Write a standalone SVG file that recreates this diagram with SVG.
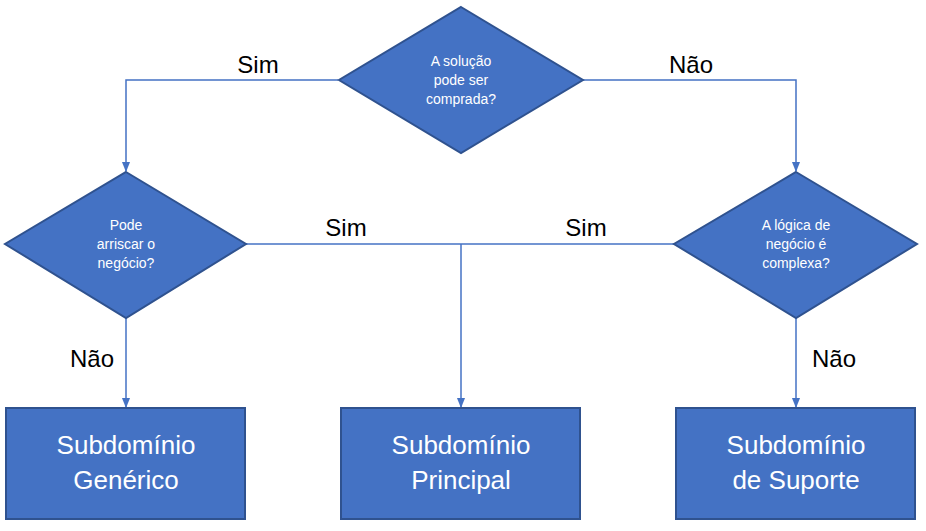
<svg xmlns="http://www.w3.org/2000/svg" width="926" height="531" viewBox="0 0 926 531">
<style>
.s{fill:#4472C4;stroke:#2F528F;stroke-width:2}
.c{fill:none;stroke:#4472C4;stroke-width:1.5}
.d{font-family:"Liberation Sans",Arial,sans-serif;font-size:14px;fill:#fff;text-anchor:middle}
.b{font-family:"Liberation Sans",Arial,sans-serif;font-size:26px;fill:#fff;text-anchor:middle}
.l{font-family:"Liberation Sans",Arial,sans-serif;font-size:24px;fill:#000;text-anchor:middle}
</style>
<defs><marker id="a" viewBox="0 0 10 10" refX="9" refY="5" markerWidth="7" markerHeight="7" orient="auto"><path d="M0,1 L10,5 L0,9z" fill="#4472C4"/></marker></defs>
<rect width="926" height="531" fill="#fff"/>
<g id="connectors">
<path class="c" d="M338,80 H126 V171" marker-end="url(#a)"/>
<path class="c" d="M583,80 H796 V171" marker-end="url(#a)"/>
<path class="c" d="M246,244 H674"/>
<path class="c" d="M461,244 V407" marker-end="url(#a)"/>
<path class="c" d="M126,318 V407" marker-end="url(#a)"/>
<path class="c" d="M796,318 V407" marker-end="url(#a)"/>
<text class="l" x="258" y="73">Sim</text>
<text class="l" x="691" y="73">Não</text>
<text class="l" x="346" y="236">Sim</text>
<text class="l" x="586" y="236">Sim</text>
<text class="l" x="92" y="367">Não</text>
<text class="l" x="834" y="367">Não</text>
</g>
<g id="q1"><path class="s" d="M461,7 L583,80 L461,153 L339,80z"/><text class="d" x="461" y="66">A solução</text><text class="d" x="461" y="85">pode ser</text><text class="d" x="461" y="104">comprada?</text></g>
<g id="q2"><path class="s" d="M126,172 L246,244 L126,318 L5,244z"/><text class="d" x="126" y="230">Pode</text><text class="d" x="126" y="249">arriscar o</text><text class="d" x="126" y="268">negócio?</text></g>
<g id="q3"><path class="s" d="M796,172 L917,244 L796,318 L674,244z"/><text class="d" x="796" y="230">A lógica de</text><text class="d" x="796" y="249">negócio é</text><text class="d" x="796" y="268">complexa?</text></g>
<g id="b1"><rect class="s" x="6" y="408" width="239" height="111"/><text class="b" x="126" y="454">Subdomínio</text><text class="b" x="126" y="489">Genérico</text></g>
<g id="b2"><rect class="s" x="341" y="408" width="239" height="111"/><text class="b" x="461" y="454">Subdomínio</text><text class="b" x="461" y="489">Principal</text></g>
<g id="b3"><rect class="s" x="676" y="408" width="239" height="111"/><text class="b" x="796" y="454">Subdomínio</text><text class="b" x="796" y="489">de Suporte</text></g>
</svg>
